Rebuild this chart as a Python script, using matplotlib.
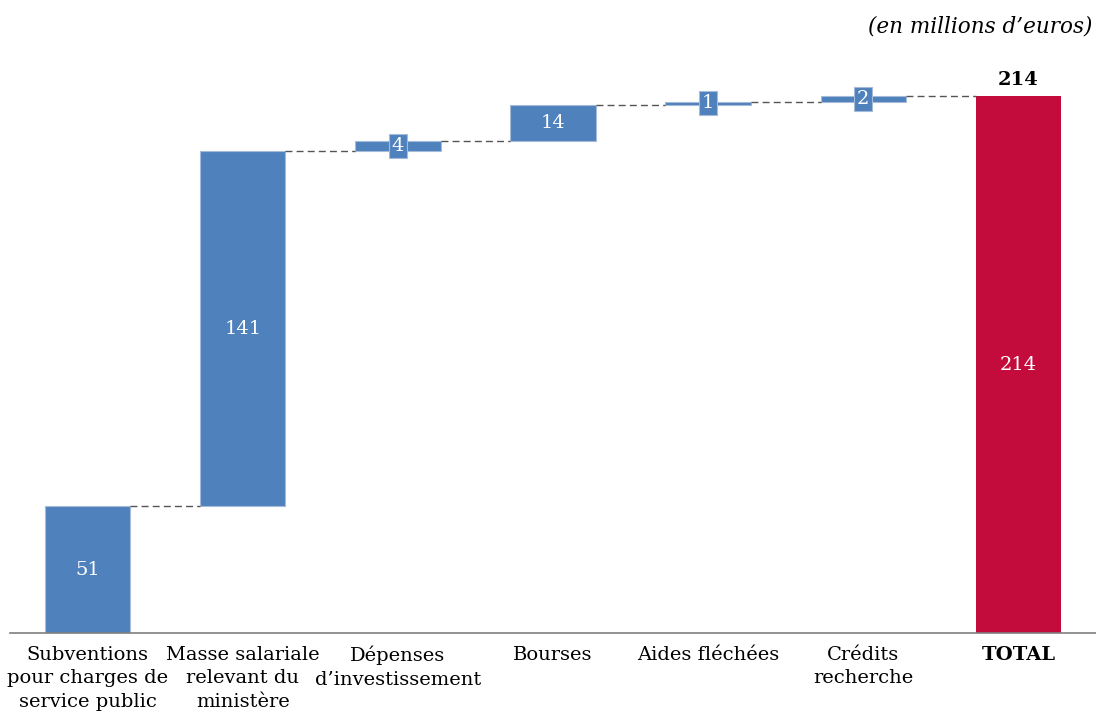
import matplotlib
matplotlib.use("Agg")
import matplotlib.pyplot as plt

categories = ["Subventions\npour charges de\nservice public",
              "Masse salariale\nrelevant du\nministère",
              "Dépenses\nd’investissement",
              "Bourses",
              "Aides fléchées",
              "Crédits\nrecherche",
              "TOTAL"]
# valeurs (étiquettes arrondies)
values = [50.6, 141.4, 4.2, 14.4, 1.2, 2.2]
total = 214

blue = "#4F81BD"
red = "#C40C3C"

plt.rcParams["font.family"] = ["DejaVu Serif"]

fig = plt.figure(figsize=(10.96, 7.14), dpi=100)
ax = fig.add_axes([10 / 1096, 81 / 714, 1086 / 1096, (633 - 31) / 714])

width = 0.55
bottoms = []
run = 0
for v in values:
    bottoms.append(run)
    run += v

for i, (v, b) in enumerate(zip(values, bottoms)):
    ax.bar(i, v, bottom=b, width=width, color=blue, edgecolor="#A5BBD9", linewidth=0.8)
    mid = b + v / 2
    lab = str(int(round(v)))
    if v >= 10:
        ax.text(i, mid, lab, ha="center", va="center", color="white", fontsize=14)
    else:
        ax.text(i, mid, lab, ha="center", va="center", color="white", fontsize=14,
                bbox=dict(boxstyle="square,pad=0.15", facecolor=blue, edgecolor="#A5BBD9", linewidth=0.8))

n = len(values)
ax.bar(n, total, width=width, color=red)
ax.text(n, total / 2, str(total), ha="center", va="center", color="white", fontsize=14)
ax.text(n, total + 3, str(total), ha="center", va="bottom", color="black", fontsize=14, fontweight="bold")

# pointillés de liaison
levels = [b + v for v, b in zip(values, bottoms)]
for i, lvl in enumerate(levels):
    ax.plot([i + width / 2, i + 1 - width / 2], [lvl, lvl], color="#555555",
            linestyle=(0, (5, 3)), linewidth=1.0)

ax.set_xlim(-0.5, 6.5)
ax.set_ylim(0, 240)
ax.set_xticks(range(n + 1))
ax.set_xticklabels(categories, fontsize=14, linespacing=1.42)
ax.get_xticklabels()[-1].set_fontweight("bold")
ax.tick_params(axis="x", length=0, pad=9)
ax.set_yticks([])
for s in ["top", "right", "left"]:
    ax.spines[s].set_visible(False)
ax.spines["bottom"].set_color("#7F7F7F")
ax.spines["bottom"].set_linewidth(1.2)

fig.text(1092 / 1096, 1 - 26 / 714, "(en millions d’euros)", ha="right", va="center",
         fontsize=15.5, style="italic")

fig.savefig("out.png", dpi=100)
